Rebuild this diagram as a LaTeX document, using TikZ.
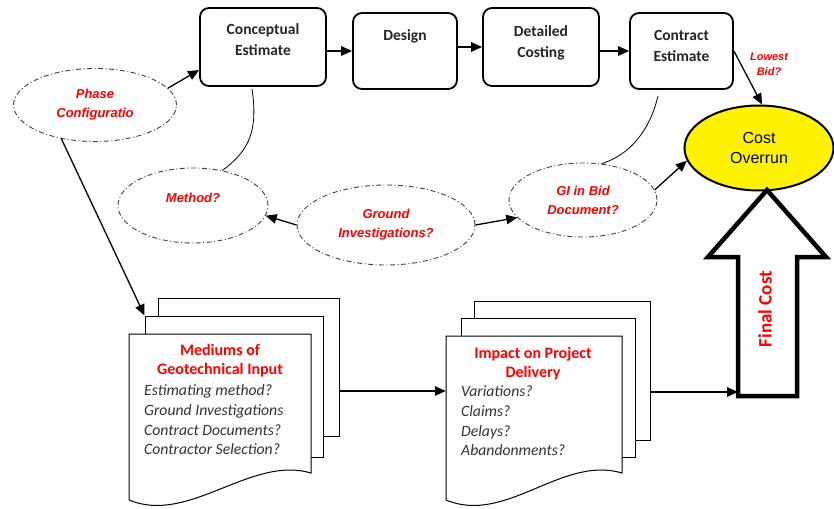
\documentclass[tikz,border=0pt]{standalone}
\usepackage{fontspec}
\setmainfont{Carlito}
\newfontfamily\arialfont{Liberation Sans}
\newfontfamily\rossofont{Liberation Sans}
\usetikzlibrary{arrows.meta,shapes.geometric}

\begin{document}
\begin{tikzpicture}[x=1pt, y=-1pt, >={Triangle[length=11pt,width=9.5pt]}]
	% Stili
	\tikzset{
		fase/.style={draw, rounded corners=9pt, line width=1.8pt, fill=white},
		fasetesto/.style={align=center, text=black!85, font=\bfseries\fontsize{15.5}{21}\selectfont},
		domanda/.style={ellipse, draw=black!75, line width=0.9pt, dash pattern=on 5pt off 2.5pt on 1pt off 2.5pt,
			inner sep=0pt, align=center, text=red, font=\rossofont\bfseries\itshape\fontsize{13}{19}\selectfont},
		freccia/.style={->, line width=1.3pt},
		pagina/.style={draw, line width=1pt, fill=white, inner sep=0pt},
		titolo/.style={align=center, text=red, font=\bfseries\fontsize{16}{19}\selectfont},
		voci/.style={align=left, inner sep=0pt, text=black!80, font=\itshape\fontsize{15.7}{19.6}\selectfont}
	}
	\useasboundingbox (0,0) rectangle (834,508);

	% Fasi di stima
	\node[fase, minimum width=126pt, minimum height=78pt] (ce) at (263,47) {};
	\node[fasetesto] (ceT) at ([yshift=7pt]ce.center) {Conceptual\\Estimate};
	\node[fase, minimum width=104pt, minimum height=76pt] (ds) at (405,51) {};
	\node[fasetesto] (dsT) at ([yshift=15pt]ds.center) {Design};
	\node[fase, minimum width=116pt, minimum height=78pt] (dc) at (541,47) {};
	\node[fasetesto] (dcT) at ([yshift=4.5pt]dc.center) {Detailed\\Costing};
	\node[fase, minimum width=103pt, minimum height=76pt] (co) at (681.5,51) {};
	\node[fasetesto] (coT) at ([yshift=5.5pt]co.center) {Contract\\Estimate};

	% Domande
	\node[domanda, minimum width=163pt, minimum height=73pt] (ph) at (95,105) {Phase\\Configuratio};
	\node[domanda, minimum width=150pt, minimum height=75pt] (me) at (193,205.5) {\raisebox{16pt}{Method?}};
	\node[domanda, minimum width=178pt, minimum height=80pt] (gr) at (386,225) {Ground\\Investigations?};
	\node[domanda, minimum width=148pt, minimum height=74pt] (gi) at (583,200) {GI in Bid\\Document?};
	\node[align=center, text=red, font=\rossofont\bfseries\itshape\fontsize{11}{15}\selectfont] (lb) at (769,64.5) {Lowest\\Bid?};

	% Sforamento dei costi
	\node[ellipse, draw, line width=2pt, fill=yellow, minimum width=149pt, minimum height=85pt, inner sep=0pt,
		align=center, font=\arialfont\fontsize{16}{20}\selectfont] (ov) at (759,148) {Cost\\Overrun};

	% Freccia del costo finale
	\draw[line width=4.5pt, miter limit=10] (767,190) -- (826,257) -- (797,257) -- (797,396) -- (738,396)
		-- (738,257) -- (708,257) -- cycle;
	\node[rotate=90, text=red, font=\bfseries\fontsize{19}{22}\selectfont] (fcT) at (765,309) {Final Cost};
	\coordinate (fc) at (738,392);

	% Documenti
	\node[pagina, minimum width=181pt, minimum height=138pt] (d1c) at (248.5,367) {};
	\node[pagina, minimum width=178pt, minimum height=141pt] (d1b) at (234,386.5) {};
	\node[minimum width=182pt, minimum height=164pt, inner sep=0pt] (d1a) at (220,416) {};
	\draw[line width=1pt, fill=white] (129,500) -- (129,334) -- (311,334) -- (311,473)
		.. controls (251,455) and (189,525) .. (129,500);
	\node[titolo] (d1t) at (220,360.5) {Mediums of\\Geotechnical Input};
	\node[voci, anchor=west] (d1i) at (144,420) {Estimating method?\\Ground Investigations\\Contract Documents?\\Contractor Selection?};

	\node[pagina, minimum width=176pt, minimum height=139pt] (d2c) at (562,370.5) {};
	\node[pagina, minimum width=174pt, minimum height=139pt] (d2b) at (548,387.5) {};
	\node[minimum width=176pt, minimum height=164pt, inner sep=0pt] (d2a) at (534,418) {};
	\draw[line width=1pt, fill=white] (446,500) -- (446,336) -- (622,336) -- (622,473)
		.. controls (562,455) and (506,525) .. (446,500);
	\node[titolo] (d2t) at (533,363.5) {Impact on Project\\Delivery};
	\node[voci, anchor=west] (d2i) at (461,421) {Variations?\\Claims?\\Delays?\\Abandonments?};

	% Collegamenti
	\draw[freccia] (ph.13) -- ([yshift=-23pt]ce.west);
	\draw[freccia] (ce.east |- ds.west) -- (ds.west);
	\draw[freccia] (ds.east |- dc.west) -- (dc.west);
	\draw[freccia] (dc.east |- co.west) -- (co.west);
	\draw[freccia] (co.east) -- (ov.86);
	\draw[freccia] (gr.west) -- (me.-8);
	\draw[freccia] (gr.east) -- (gi.195);
	\draw[freccia] (gi.8) -- (ov.190);
	\draw[freccia] (ph.225) -- (d1b.north west);
	\coordinate (u1) at ([yshift=-24pt]d1c.east);
	\draw[freccia] (u1) -- (u1 -| d2a.west);
	\coordinate (u2) at ([yshift=-21.5pt]d2c.east);
	\draw[freccia] (u2) -- (u2 -| fc);
	\draw[line width=0.8pt] ([xshift=-11pt, yshift=-2pt]ce.south) .. controls (258,130) and (250,150) .. (me.50);
	\draw[line width=0.8pt] ([xshift=-23.5pt, yshift=-6pt]co.south) .. controls (650,130) and (630,155) .. (gi.63);
\end{tikzpicture}
\end{document}
